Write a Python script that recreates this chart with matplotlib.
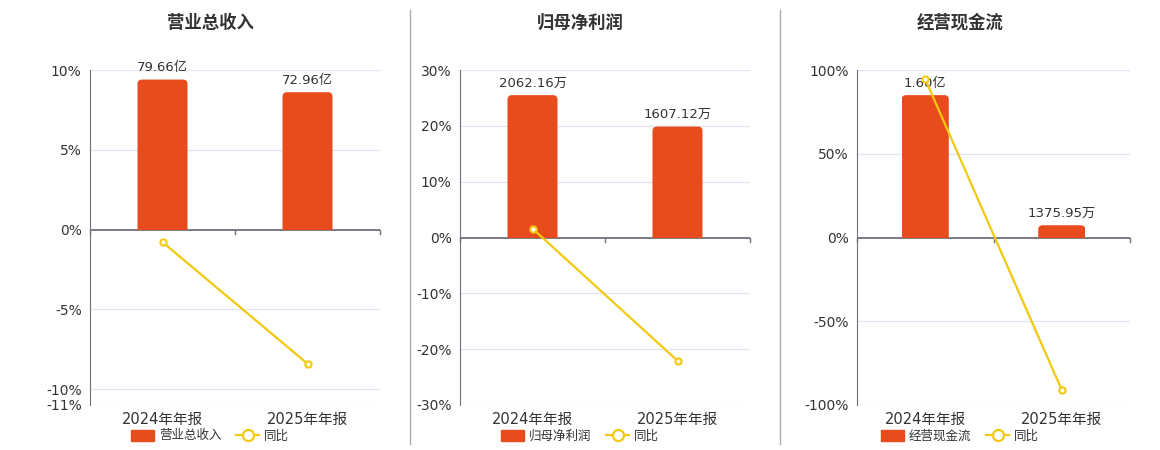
import matplotlib
matplotlib.use("Agg")
import matplotlib.pyplot as plt
import matplotlib.transforms as mtransforms
from matplotlib.lines import Line2D
from matplotlib.patches import Patch, FancyBboxPatch, Rectangle

plt.rcParams['font.family'] = ['DejaVu Sans', 'Noto Sans CJK SC']

# ---- data ----
categories = ["2024年年报", "2025年年报"]
titles = ["营业总收入", "归母净利润", "经营现金流"]
bar_values = [[79.66, 72.96], [2062.16, 1607.12], [16000.0, 1375.95]]
bar_labels = [["79.66亿", "72.96亿"], ["2062.16万", "1607.12万"], ["1.60亿", "1375.95万"]]
yoy_values = [[-0.79, -8.41], [1.6, -22.07], [94.5, -91.0]]
y_ticks = [[10, 5, 0, -5, -10, -11], [30, 20, 10, 0, -10, -20, -30], [100, 50, 0, -50, -100]]
y_limits = [(-11, 10), (-30, 30), (-100, 100)]
bar_top_frac = [0.94, 0.85, 0.85]

BAR = "#e84c1d"
LINE = "#f2c90f"
AXC = "#6e7079"
GRID = "#e0e6f1"
TXT = "#333333"

W, H = 1160, 450
fig = plt.figure(figsize=(W / 100, H / 100), dpi=100)

axes_px = [(90, 380), (460, 750), (857, 1130)]
centers = [210, 580, 960]
top_px, bot_px = 70, 405
BAR_W = 0.345
R_PX = 4.5

for i in range(3):
    x0, x1 = axes_px[i]
    wpx, hpx = x1 - x0, bot_px - top_px
    ax = fig.add_axes([x0 / W, 1 - bot_px / H, wpx / W, hpx / H])
    lo, hi = y_limits[i]
    ax.set_ylim(lo, hi)
    ax.set_xlim(-0.5, 1.5)
    ax.set_yticks(y_ticks[i])
    ax.set_yticklabels([f"{t}%" for t in y_ticks[i]], fontsize=10, color=TXT)
    for t in y_ticks[i]:
        if t != 0:
            ax.axhline(t, color=GRID, lw=0.9, zorder=0)
    for s in ["top", "right", "bottom"]:
        ax.spines[s].set_visible(False)
    ax.spines["left"].set_color(AXC)
    ax.tick_params(axis="y", length=0, pad=6)
    ax.set_xticks([])

    # zero axis line with category boundary ticks
    ax.axhline(0, color=AXC, lw=1.3, zorder=3)
    span = hi - lo
    for xb in [-0.5, 0.5, 1.5]:
        ax.plot([xb, xb], [0, -span * 0.013], color=AXC, lw=1, zorder=3, clip_on=False)

    # bars on twin axis (own scale, zero aligned)
    bx = ax.twinx()
    bmax = max(bar_values[i]) / bar_top_frac[i]
    bmin = bmax * lo / hi
    bx.set_ylim(bmin, bmax)
    bx.set_xlim(-0.5, 1.5)
    bx.set_axis_off()
    bars = bx.bar(range(2), bar_values[i], width=BAR_W, color=BAR, zorder=2)
    x_per_px = 2.0 / wpx
    y_per_px = (bmax - bmin) / hpx
    r = R_PX * x_per_px
    aspect = y_per_px / x_per_px
    for rect in bars:
        rect.set_visible(False)
        bxl, bw, bh = rect.get_x(), rect.get_width(), rect.get_height()
        ext = R_PX * y_per_px * 2
        p = FancyBboxPatch((bxl, -ext), bw, bh + ext,
                           boxstyle=f"round,pad=0,rounding_size={r}",
                           mutation_aspect=aspect, facecolor=BAR, edgecolor="none", zorder=2)
        bx.add_patch(p)
        clip = Rectangle((bxl, 0), bw, bh * 1.5 + ext, transform=bx.transData)
        p.set_clip_path(clip)
    for j, v in enumerate(bar_values[i]):
        bx.annotate(bar_labels[i][j], (j, v), xytext=(0, 4), textcoords="offset points",
                    ha="center", va="bottom", fontsize=9.5, color=TXT)

    # line on top
    lx = ax.twinx()
    lx.set_ylim(lo, hi)
    lx.set_xlim(-0.5, 1.5)
    lx.set_axis_off()
    lx.plot(range(2), yoy_values[i], color=LINE, lw=1.6, marker="o", ms=4.5,
            mfc="white", mec=LINE, mew=1.5, zorder=5, clip_on=False)

    # category labels
    off = mtransforms.ScaledTranslation(0, -5 / 72, fig.dpi_scale_trans)
    for j, c in enumerate(categories):
        ax.text(j, lo, c, transform=ax.transData + off, ha="center", va="top",
                fontsize=10.5, color=TXT)

    fig.text(centers[i] / W, 1 - 23 / H, titles[i], ha="center", va="center",
             fontsize=12.5, fontweight="bold", color=TXT)

    handles = [Patch(facecolor=BAR, edgecolor=BAR, label=titles[i]),
               Line2D([0], [0], color=LINE, lw=1.6, marker="o", ms=8, mfc="white",
                      mec=LINE, mew=1.6, label="同比")]
    fig.legend(handles=handles, loc="center", bbox_to_anchor=(centers[i] / W, 1 - 436 / H),
               ncol=2, frameon=False, fontsize=9, handlelength=1.8, handleheight=1.0,
               columnspacing=1.2, handletextpad=0.4, labelcolor=TXT)

# separators
for xs in [410, 780]:
    fig.add_artist(Line2D([xs / W, xs / W], [1 - 10 / H, 1 - 444 / H], color="#aaaaaa", lw=1))

fig.savefig("out.png", dpi=100, facecolor="white")
